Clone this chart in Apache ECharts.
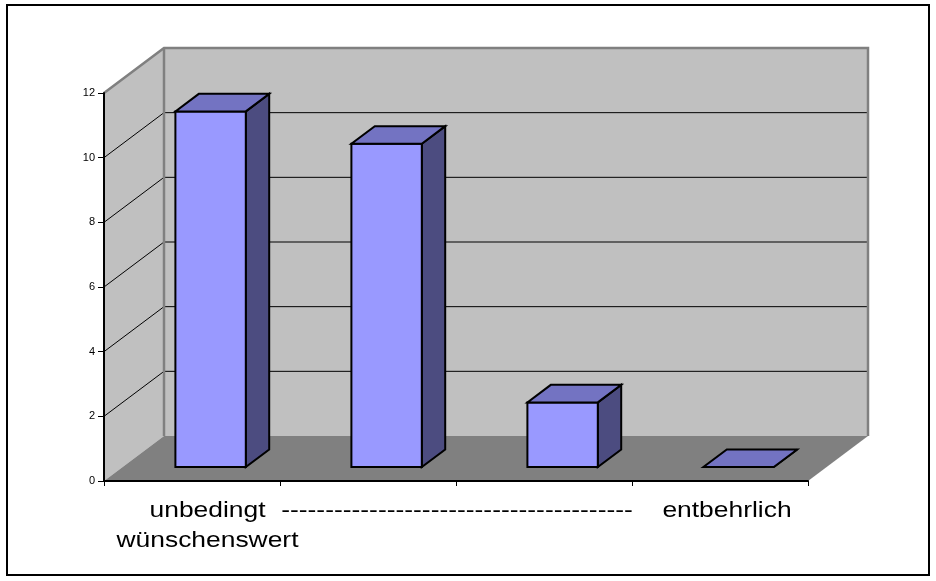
<!DOCTYPE html>
<html>
<head>
<meta charset="utf-8">
<script src="https://cdn.jsdelivr.net/npm/echarts@6/dist/echarts.min.js"></script>
<style>
html,body{margin:0;padding:0;background:#fff;}
#chart{width:936px;height:581px;}
</style>
</head>
<body>
<div id="chart"></div>
<script>
// ---- data ----
const categories = ['unbedingt\nwünschenswert', '----------------------------------------', '', 'entbehrlich'];
const values = [11, 10, 2, 0];
const yMin = 0, yMax = 12, yStep = 2;

// ---- layout / style constants ----
const DX = 60, DY = -45;           // 3D depth vector
const BAR_FRONT = 0.31, BAR_DEPTH = 0.39, BAR_W = 0.4;
const labelShift = [15.5, 89, 0, 7];
const FONT = 'Liberation Sans, Arial, sans-serif';

const chart = echarts.init(document.getElementById('chart'), null, {renderer: 'canvas'});

const gridVals = [];
for (let v = yMin + yStep; v < yMax; v += yStep) gridVals.push(v);

const wallsSeries = {
  type: 'custom',
  z: 0,
  silent: true,
  data: [[0, 0]],
  renderItem: function (params, api) {
    const cs = params.coordSys;
    const L = cs.x, T = cs.y, R = cs.x + cs.width, B = cs.y + cs.height;
    const ch = [];
    ch.push({type: 'polygon', shape: {points: [[L, T], [L + DX, T + DY], [L + DX, B + DY], [L, B]]}, style: {fill: '#C0C0C0', stroke: null}});
    ch.push({type: 'rect', shape: {x: L + DX, y: T + DY, width: R - L, height: B - T}, style: {fill: '#C0C0C0', stroke: null}});
    ch.push({type: 'polygon', shape: {points: [[L, B], [L + DX, B + DY], [R + DX, B + DY], [R, B]]}, style: {fill: '#808080', stroke: null}});
    gridVals.forEach(function (v) {
      const y = api.coord([0, v])[1];
      ch.push({type: 'polyline', shape: {points: [[L, y], [L + DX, y + DY], [R + DX, y + DY]]}, style: {stroke: '#000', lineWidth: 1, fill: null}});
    });
    ch.push({type: 'polyline', shape: {points: [[L, T], [L + DX, T + DY], [R + DX, T + DY], [R + DX, B + DY]]}, style: {stroke: '#808080', lineWidth: 2.5, fill: null}});
    ch.push({type: 'line', shape: {x1: L + DX, y1: T + DY, x2: L + DX, y2: B + DY}, style: {stroke: '#808080', lineWidth: 2.5}});
    return {type: 'group', children: ch};
  }
};

const barsSeries = {
  type: 'custom',
  z: 3,
  data: values.map(function (v, i) { return [i, v]; }),
  renderItem: function (params, api) {
    const i = api.value(0), v = api.value(1);
    const base = api.coord([i, 0]);
    const top = api.coord([i, v]);
    const band = api.size([1, 0])[0];
    const w = band * BAR_W;
    const fx = BAR_FRONT * DX, fy = BAR_FRONT * DY;
    const bdx = BAR_DEPTH * DX, bdy = BAR_DEPTH * DY;
    const x0 = base[0] - w / 2 + fx, x1 = x0 + w;
    const yb = base[1] + fy, yt = top[1] + fy;
    const st = {stroke: '#000', lineWidth: 2, lineJoin: 'miter'};
    return {
      type: 'group',
      children: [
        {type: 'polygon', shape: {points: [[x1, yt], [x1 + bdx, yt + bdy], [x1 + bdx, yb + bdy], [x1, yb]]}, style: Object.assign({fill: '#4C4C80'}, st)},
        {type: 'rect', shape: {x: x0, y: yt, width: w, height: yb - yt}, style: Object.assign({fill: '#9999FF'}, st)},
        {type: 'polygon', shape: {points: [[x0, yt], [x1, yt], [x1 + bdx, yt + bdy], [x0 + bdx, yt + bdy]]}, style: Object.assign({fill: '#7373C2'}, st)}
      ]
    };
  }
};

const labelSeries = {
  type: 'custom',
  z: 4,
  silent: true,
  data: categories.map(function (c, i) { return [i, 0]; }),
  renderItem: function (params, api) {
    const i = api.value(0);
    const p = api.coord([i, 0]);
    return {
      type: 'text',
      x: p[0] + labelShift[i],
      y: 496,
      scaleX: 1.2,
      scaleY: 1,
      style: {
        x: 0, y: 0,
        text: categories[i],
        fill: '#000',
        fontSize: 22,
        fontFamily: FONT,
        lineHeight: 30,
        align: 'center',
        verticalAlign: 'top'
      }
    };
  }
};

chart.setOption({
  animation: false,
  backgroundColor: '#fff',
  grid: {left: 104, top: 93, width: 704, height: 388},
  xAxis: {
    type: 'category',
    data: categories,
    boundaryGap: true,
    z: 5,
    axisLine: {show: true, lineStyle: {color: '#000', width: 2}},
    axisTick: {show: true, interval: 0, length: 5, lineStyle: {color: '#000', width: 1}},
    axisLabel: {show: false, interval: 0},
    splitLine: {show: false}
  },
  yAxis: {
    type: 'value',
    min: yMin, max: yMax, interval: yStep,
    z: 5,
    axisLine: {show: true, lineStyle: {color: '#000', width: 2}},
    axisTick: {show: true, length: 6, lineStyle: {color: '#000', width: 1}},
    axisLabel: {fontSize: 11, color: '#000', fontFamily: FONT, margin: 9},
    splitLine: {show: false}
  },
  graphic: [{
    type: 'rect', z: 10, silent: true,
    shape: {x: 7, y: 5, width: 922, height: 570},
    style: {fill: null, stroke: '#000', lineWidth: 2}
  }],
  series: [wallsSeries, barsSeries, labelSeries]
});
</script>
</body>
</html>
